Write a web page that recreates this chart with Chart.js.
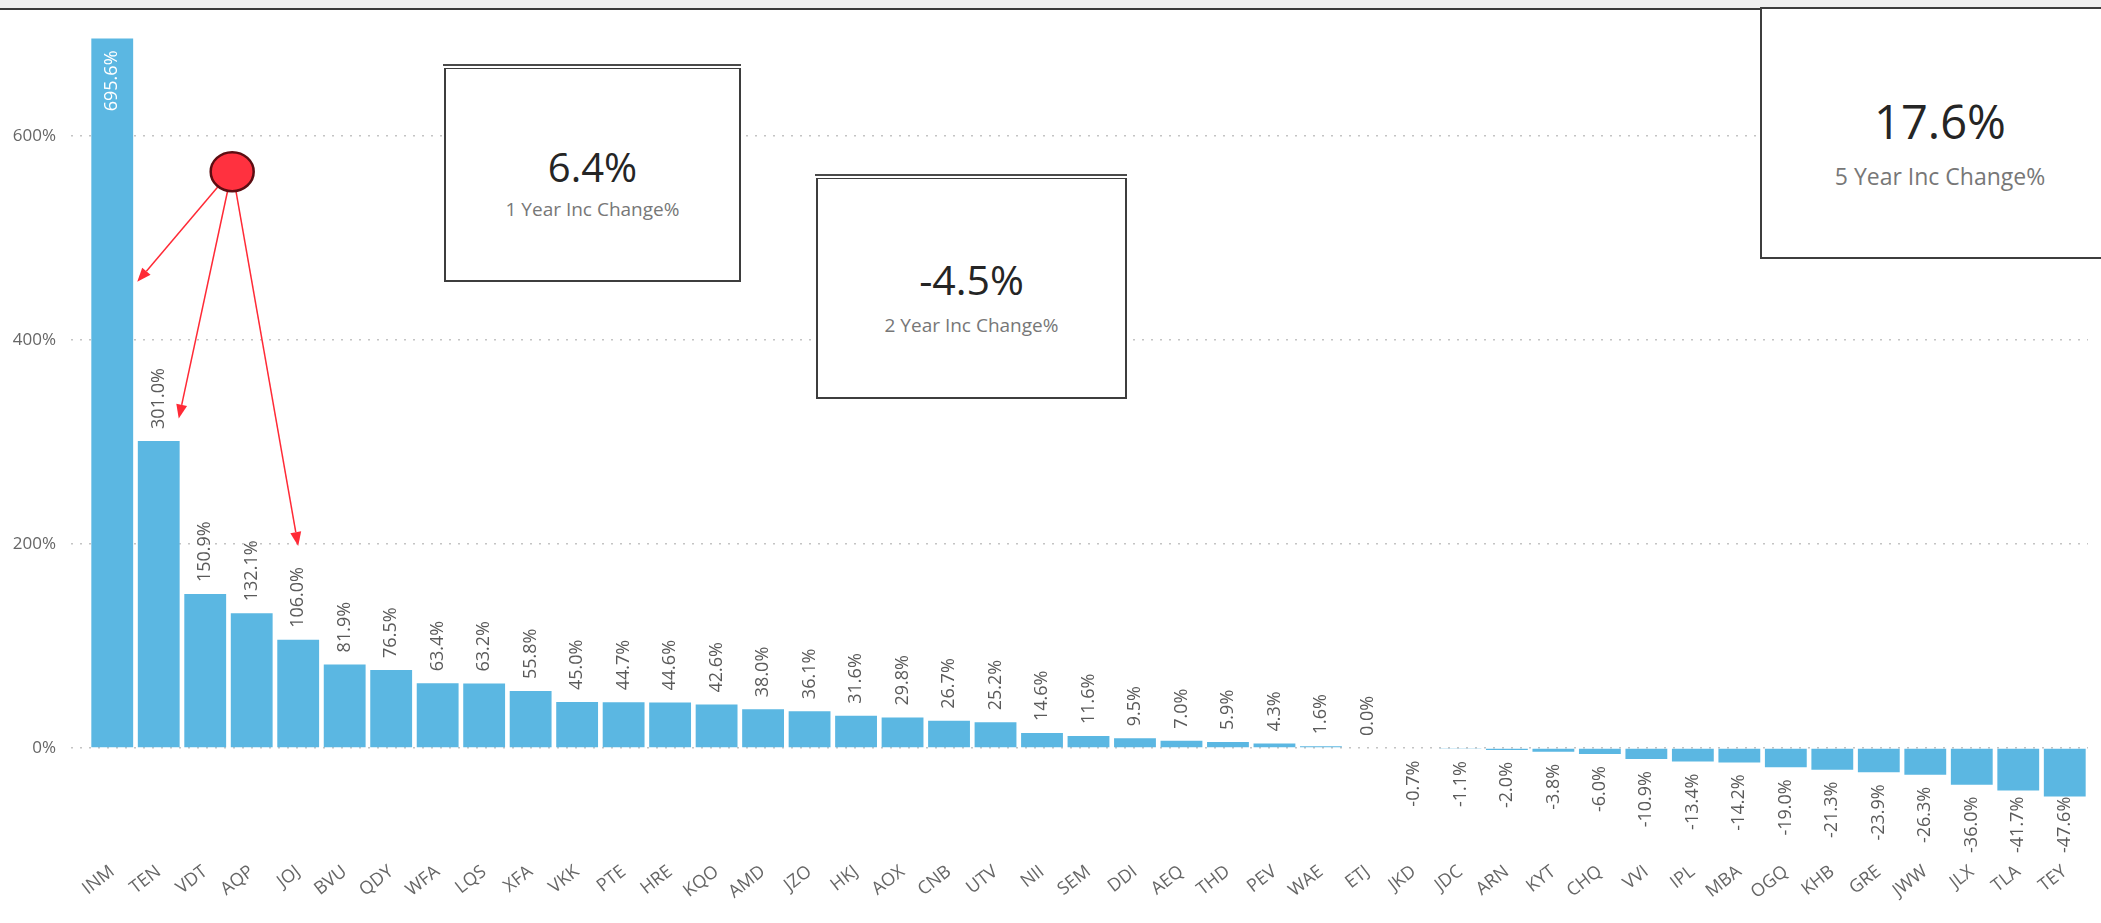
<!DOCTYPE html>
<html>
<head>
<meta charset="utf-8">
<title>Inc Change%</title>
<script src="https://cdn.jsdelivr.net/npm/chart.js@4.4.1/dist/chart.umd.min.js"></script>
<style>
  html, body { margin: 0; padding: 0; background: #fff; }
  body { font-family: 'Segoe UI', 'Open Sans', sans-serif; }
  #page { position: relative; width: 2101px; height: 923px; overflow: hidden; }
  #chartbox { position: absolute; left: 0; top: 0; width: 2101px; height: 923px; }
  #topbar { position: absolute; left: 0; top: 0; width: 100%; height: 8px; background: #efefef; border-bottom: 2px solid #3a3a3a; }
  .card { position: absolute; background: #fff; border: 2px solid #3d3d3d; box-sizing: border-box; text-align: center; }
  .card.lined { border-top-width: 1px; }
  .card.lined::before { content: ""; position: absolute; left: -3px; right: -2px; top: -5px; height: 2px; background: #4a4a4a; }
  .card .val { position: absolute; left: 0; right: 0; line-height: 1; color: #252525; white-space: nowrap; }
  .card .lbl { position: absolute; left: 0; right: 0; line-height: 1; color: #777; white-space: nowrap; }
  #card1 { left: 444px; top: 68px; width: 297px; height: 214px; }
  #card1 .val { top: 78px; font-size: 40px; }
  #card1 .lbl { top: 131px; font-size: 19px; }
  #card2 { left: 816px; top: 178px; width: 311px; height: 221px; }
  #card2 .val { top: 80px; font-size: 41px; }
  #card2 .lbl { top: 137px; font-size: 19px; }
  #card3 { left: 1760px; top: 7px; width: 360px; height: 252px; }
  #card3 .val { top: 89px; font-size: 47px; }
  #card3 .lbl { top: 156px; font-size: 23px; }
</style>
</head>
<body>
<div id="page">
  <div id="topbar"></div>
  <div id="chartbox"><canvas id="incChart"></canvas></div>
  <div class="card lined" id="card1"><div class="val"></div><div class="lbl"></div></div>
  <div class="card lined" id="card2"><div class="val"></div><div class="lbl"></div></div>
  <div class="card" id="card3"><div class="val"></div><div class="lbl"></div></div>
</div>
<script>
// bar categories and the incremental change per category (%)
const categories = ["INM", "TEN", "VDT", "AQP", "JOJ", "BVU", "QDY", "WFA", "LQS", "XFA", "VKK", "PTE", "HRE", "KQO", "AMD",
  "JZO", "HKJ", "AOX", "CNB", "UTV", "NII", "SEM", "DDI", "AEQ", "THD", "PEV", "WAE", "ETJ", "JKD", "JDC", "ARN", "KYT",
  "CHQ", "VVI", "IPL", "MBA", "OGQ", "KHB", "GRE", "JWW", "JLX", "TLA", "TEY"];
const incChange = [695.6, 301.0, 150.9, 132.1, 106.0, 81.9, 76.5, 63.4, 63.2, 55.8, 45.0, 44.7, 44.6, 42.6, 38.0,
  36.1, 31.6, 29.8, 26.7, 25.2, 14.6, 11.6, 9.5, 7.0, 5.9, 4.3, 1.6, 0.0, -0.7, -1.1, -2.0, -3.8,
  -6.0, -10.9, -13.4, -14.2, -19.0, -21.3, -23.9, -26.3, -36.0, -41.7, -47.6];
const yTicks = [0, 200, 400, 600];

// kpi cards
const cardValues = ["6.4%", "-4.5%", "17.6%"];
const cardLabels = ["1 Year Inc Change%", "2 Year Inc Change%", "5 Year Inc Change%"];

// red marker + arrows pointing at the top bars
const markerAt = { index: 2.58, value: 565 };
const arrowTips = [
  { index: 0, value: 457, dx: 25 },
  { index: 1, value: 323, dx: 20 },
  { index: 4, value: 198, dx: 0 }
];

["card1", "card2", "card3"].forEach(function(id, i) {
  const card = document.getElementById(id);
  card.querySelector(".val").textContent = cardValues[i];
  card.querySelector(".lbl").textContent = cardLabels[i];
});

const FONT = "'Segoe UI', 'Open Sans', sans-serif";
Chart.defaults.font.family = FONT;

// value labels, rotated, above / below each bar
const barLabels = {
  id: "barLabels",
  afterDatasetsDraw(chart) {
    const ctx = chart.ctx;
    const area = chart.chartArea;
    const meta = chart.getDatasetMeta(0);
    ctx.save();
    ctx.font = "18px " + FONT;
    ctx.textAlign = "left";
    ctx.textBaseline = "middle";
    meta.data.forEach(function(bar, i) {
      const v = incChange[i];
      const text = v.toFixed(1) + "%";
      const w = ctx.measureText(text).width;
      const gap = 12;
      let bottom;
      let color = "#5a5a5a";
      if (v >= 0) {
        bottom = bar.y - gap;
        if (bottom - w < area.top) {
          bottom = bar.y + gap + w;
          color = "#ffffff";
        }
      } else {
        bottom = Math.min(bar.y + gap + w, area.bottom);
      }
      ctx.fillStyle = color;
      ctx.save();
      ctx.translate(bar.x, bottom);
      ctx.rotate(-Math.PI / 2);
      ctx.fillText(text, 0, 0);
      ctx.restore();
    });
    ctx.restore();
  }
};

const marker = {
  id: "marker",
  afterDraw(chart) {
    const ctx = chart.ctx;
    const xs = chart.scales.x;
    const ys = chart.scales.y;
    const cx = xs.getPixelForValue(markerAt.index);
    const cy = ys.getPixelForValue(markerAt.value);
    const rx = 21.5, ry = 19.5;

    ctx.save();
    ctx.strokeStyle = "#ff2a36";
    ctx.fillStyle = "#ff2a36";
    ctx.lineWidth = 1.5;
    arrowTips.forEach(function(a) {
      const tx = xs.getPixelForValue(a.index) + a.dx;
      const ty = ys.getPixelForValue(a.value);
      const ang = Math.atan2(ty - cy, tx - cx);
      const sx = cx + Math.cos(ang) * rx;
      const sy = cy + Math.sin(ang) * ry;
      const len = 14, half = 5.5;
      const bx = tx - Math.cos(ang) * len;
      const by = ty - Math.sin(ang) * len;
      ctx.beginPath();
      ctx.moveTo(sx, sy);
      ctx.lineTo(bx, by);
      ctx.stroke();
      ctx.beginPath();
      ctx.moveTo(tx, ty);
      ctx.lineTo(bx + Math.sin(ang) * half, by - Math.cos(ang) * half);
      ctx.lineTo(bx - Math.sin(ang) * half, by + Math.cos(ang) * half);
      ctx.closePath();
      ctx.fill();
    });

    ctx.beginPath();
    ctx.ellipse(cx, cy, rx, ry, 0, 0, Math.PI * 2);
    ctx.fillStyle = "#ff313f";
    ctx.fill();
    ctx.lineWidth = 2.5;
    ctx.strokeStyle = "#5c0d12";
    ctx.stroke();
    ctx.restore();
  }
};

const ctx = document.getElementById("incChart");

let data = {
  labels: categories,
  datasets: [{
    label: "Inc Change%",
    data: incChange,
    backgroundColor: "#5bb7e2",
    borderWidth: 0,
    barPercentage: 0.9,
    categoryPercentage: 1.0
  }]
};

let config = {
  type: "bar",
  data: data,
  options: {
    responsive: true,
    maintainAspectRatio: false,
    animation: false,
    layout: { padding: { left: 0, top: 34, right: 13, bottom: 0 } },
    plugins: {
      legend: { display: false },
      tooltip: { enabled: false }
    },
    scales: {
      x: {
        grid: { display: false, drawTicks: false },
        border: { display: false },
        ticks: {
          autoSkip: false,
          maxRotation: 38,
          minRotation: 38,
          padding: 8,
          color: "#666",
          font: { size: 18 }
        },
        afterFit: function(scale) { scale.height = 70; }
      },
      y: {
        min: -103,
        max: 700,
        afterBuildTicks: function(scale) {
          scale.ticks = yTicks.map(function(v) { return { value: v }; });
        },
        afterFit: function(scale) { scale.width = 89; },
        grid: {
          color: "#c4c4c4",
          lineWidth: 1.5,
          tickLength: 18,
          tickBorderDash: [2, 7]
        },
        border: { display: false, dash: [2, 7] },
        ticks: {
          padding: 15,
          color: "#666",
          font: { size: 17 },
          callback: function(v) { return v + "%"; }
        }
      }
    }
  },
  plugins: [barLabels, marker]
};

let myChart = new Chart(ctx, config);
</script>
</body>
</html>
